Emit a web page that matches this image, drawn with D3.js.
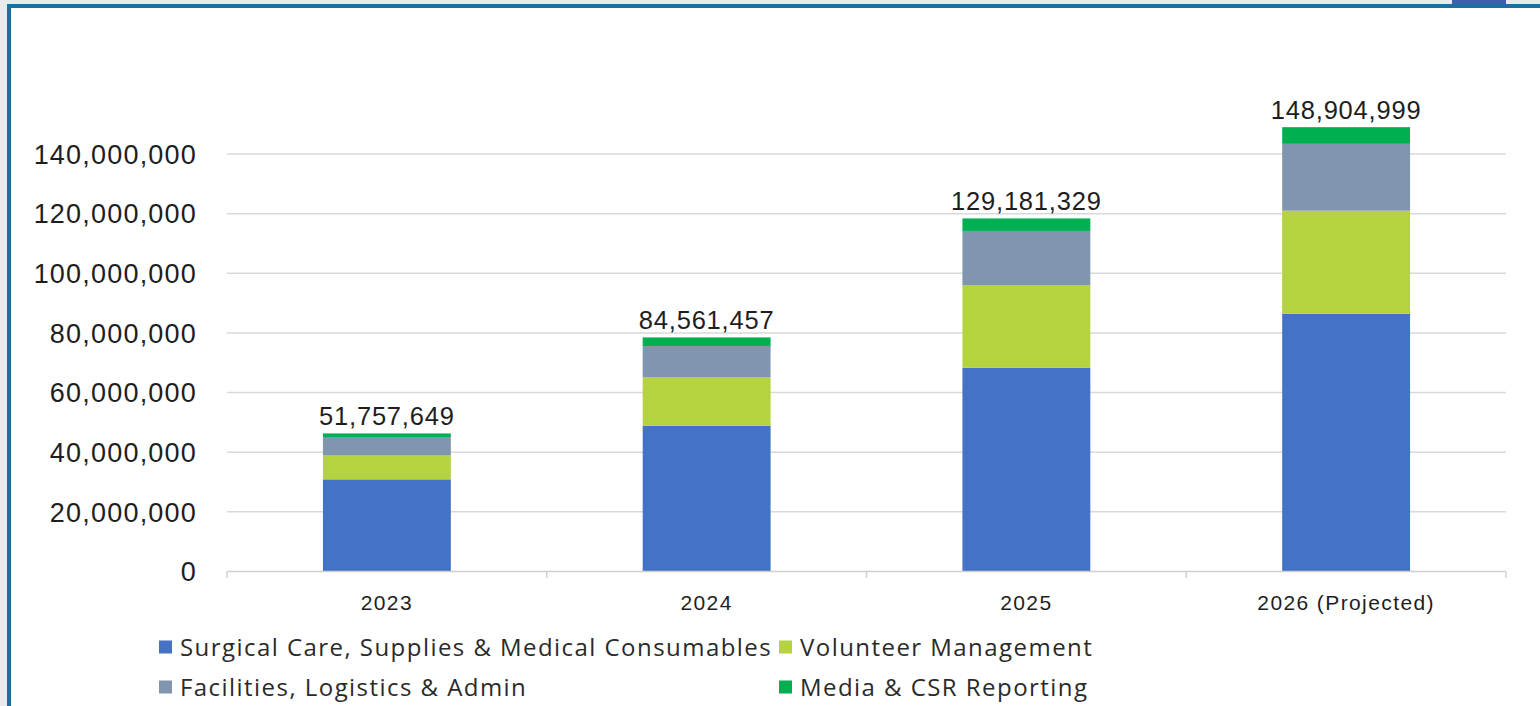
<!DOCTYPE html>
<html>
<head>
<meta charset="utf-8">
<script src="https://cdn.jsdelivr.net/npm/d3@7"></script>
<style>
  html, body { margin: 0; padding: 0; background: #e8ebee; }
  svg { display: block; }
</style>
</head>
<body>
<svg id="chart" width="1540" height="706"></svg>
<script>
const categories = ["2023", "2024", "2025", "2026 (Projected)"];
const seriesNames = [
  "Surgical Care, Supplies & Medical Consumables",
  "Volunteer Management",
  "Facilities, Logistics & Admin",
  "Media & CSR Reporting"
];
const surgical   = [30900000, 48900000, 68300000, 86400000];
const volunteer  = [8000000, 16200000, 27700000, 34600000];
const facilities = [6200000, 10500000, 18200000, 22400000];
const media      = [1200000, 2900000, 4200000, 5600000];
const totalLabels = ["51,757,649", "84,561,457", "129,181,329", "148,904,999"];
const yTicks = [0, 20000000, 40000000, 60000000, 80000000, 100000000, 120000000, 140000000];
const colors = ["#4472c4", "#b5d23f", "#8095ae", "#00b050"];

const svg = d3.select("#chart");

// frame
svg.append("rect").attr("x", 0).attr("y", 0).attr("width", 1540).attr("height", 706).attr("fill", "#e8ebee");
svg.append("rect").attr("x", 1452).attr("y", 0).attr("width", 54).attr("height", 5).attr("fill", "#3f5fae");
svg.append("rect").attr("x", 7).attr("y", 4).attr("width", 1533).attr("height", 702).attr("fill", "#1b6fa5");
svg.append("rect").attr("x", 11).attr("y", 8).attr("width", 1529).attr("height", 698).attr("fill", "#ffffff");

const x = d3.scaleBand().domain(categories).range([227, 1506]).padding(0);
const y = d3.scaleLinear().domain([0, 140000000]).range([571.5, 154]);

// gridlines
svg.append("g").selectAll("line").data(yTicks.filter(d => d > 0)).join("line")
  .attr("x1", 227).attr("x2", 1506)
  .attr("y1", d => y(d)).attr("y2", d => y(d))
  .attr("stroke", "#d9d9d9").attr("stroke-width", 1.5);

// y labels
const fmt = d3.format(",");
svg.append("g").selectAll("text").data(yTicks).join("text")
  .attr("x", 197).attr("y", d => y(d))
  .attr("dy", "0.36em")
  .attr("text-anchor", "end")
  .attr("font-family", "Liberation Sans, Arial, sans-serif")
  .attr("font-size", 27)
  .attr("letter-spacing", 1.2)
  .attr("fill", "#1e1e1e")
  .text(d => fmt(d));

// stacked bars
const rows = categories.map((c, i) => ({cat: c, s0: surgical[i], s1: volunteer[i], s2: facilities[i], s3: media[i]}));
const stack = d3.stack().keys(["s0", "s1", "s2", "s3"]);
const stacked = stack(rows);
const barW = x.bandwidth() * 0.4;

svg.append("g").selectAll("g").data(stacked).join("g")
  .attr("fill", (d, i) => colors[i])
  .selectAll("rect").data(d => d).join("rect")
  .attr("x", d => x(d.data.cat) + (x.bandwidth() - barW) / 2)
  .attr("width", barW)
  .attr("y", d => y(d[1]))
  .attr("height", d => y(d[0]) - y(d[1]));

// x axis line and ticks
const xg = svg.append("g");
xg.append("line").attr("x1", 227).attr("x2", 1506).attr("y1", 571.5).attr("y2", 571.5)
  .attr("stroke", "#d0d0d0").attr("stroke-width", 1.5);
const bounds = categories.map(c => x(c)).concat([x.range()[1]]);
xg.selectAll("line.tick").data(bounds).join("line").attr("class", "tick")
  .attr("x1", d => d).attr("x2", d => d).attr("y1", 571.5).attr("y2", 578)
  .attr("stroke", "#d0d0d0").attr("stroke-width", 1.5);

// category labels
svg.append("g").selectAll("text").data(categories).join("text")
  .attr("x", d => x(d) + x.bandwidth() / 2)
  .attr("y", 610)
  .attr("text-anchor", "middle")
  .attr("font-family", "Liberation Sans, Arial, sans-serif")
  .attr("font-size", 21)
  .attr("letter-spacing", 1.4)
  .attr("fill", "#1e1e1e")
  .text(d => d);

// total labels
const tops = stacked[3];
svg.append("g").selectAll("text").data(tops).join("text")
  .attr("x", d => x(d.data.cat) + x.bandwidth() / 2)
  .attr("y", d => y(d[1]) - 8)
  .attr("text-anchor", "middle")
  .attr("font-family", "Liberation Sans, Arial, sans-serif")
  .attr("font-size", 25.5)
  .attr("letter-spacing", 0.8)
  .attr("fill", "#1e1e1e")
  .text((d, i) => totalLabels[i]);

// legend
const legendPos = [[159, 647], [779, 647], [159, 687], [779, 687]];
const lg = svg.append("g").selectAll("g").data(seriesNames).join("g")
  .attr("transform", (d, i) => `translate(${legendPos[i][0]},${legendPos[i][1]})`);
lg.append("rect").attr("x", 0).attr("y", -6.5).attr("width", 13).attr("height", 13)
  .attr("fill", (d, i) => colors[i]);
lg.append("text").attr("x", 21).attr("y", 0).attr("dy", "0.36em")
  .attr("font-family", "Open Sans, sans-serif")
  .attr("font-size", 24)
  .attr("letter-spacing", 1.45)
  .attr("fill", "#2a2a2a")
  .text(d => d);
</script>
</body>
</html>
